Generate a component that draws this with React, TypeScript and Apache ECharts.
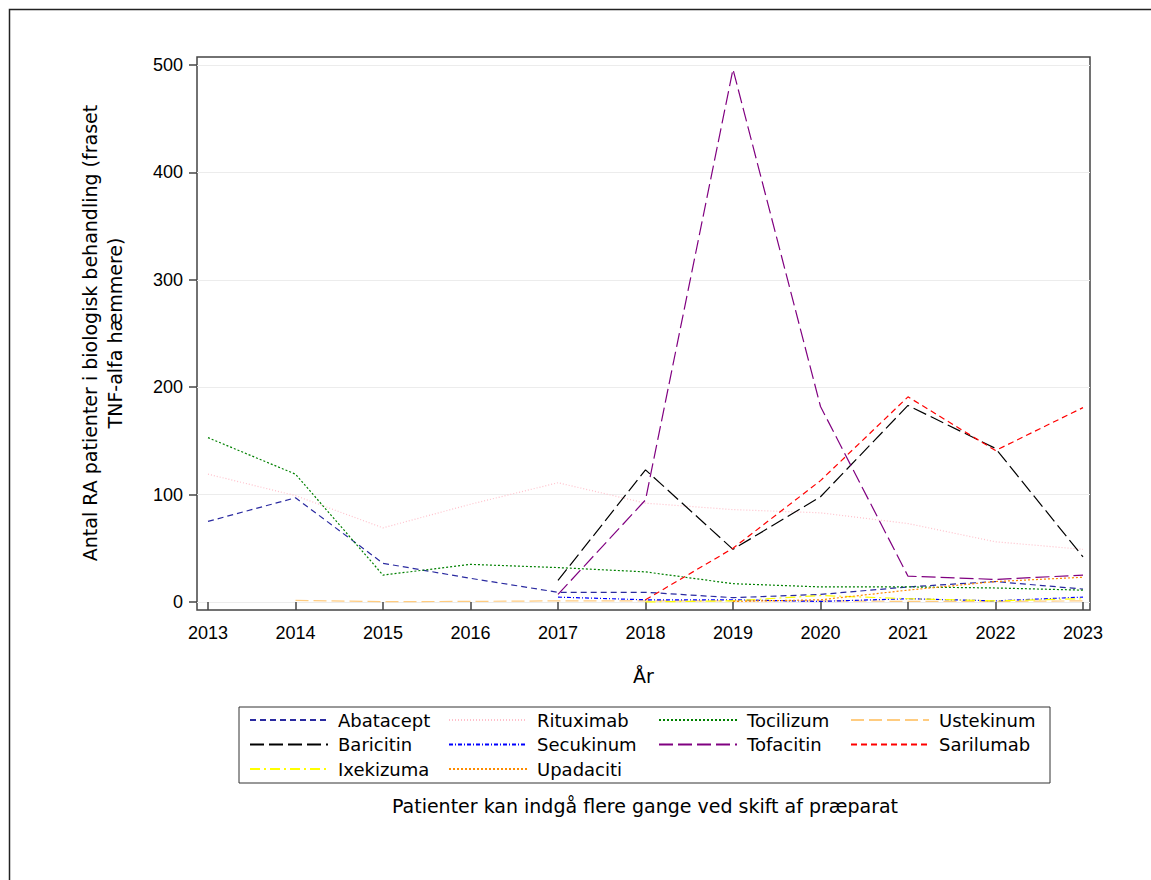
import React, { useEffect, useRef } from "react";
import * as echarts from "echarts";

const years = [2013, 2014, 2015, 2016, 2017, 2018, 2019, 2020, 2021, 2022, 2023];
const yTicks = [0, 100, 200, 300, 400, 500];

const abatacept = [75, 97, 36, 22, 9, 9, 4, 7, 14, 19, 12];
const rituximab = [119, 99, 69, 91, 111, 92, 86, 83, 73, 56, 49];
const tocilizumab = [153, 119, 25, 35, 32, 28, 17, 14, 14, 13, 11];
const ustekinumab = [null, 1.5, 0.3, 0.5, 1, 1, 1, 1, 0.5, 0.5, 1];
const baricitinib = [null, null, null, null, 20, 123, 49, 98, 183, 143, 42];
const secukinumab = [null, null, null, null, 4.5, 2, 2, 0.5, 3, 1, 4.5];
const tofacitinib = [null, null, null, null, 7, 95, 496, 182, 24, 21, 25];
const sarilumab = [null, null, null, null, null, 2, 50, 113, 191, 141, 181];
const ixekizumab = [null, null, null, null, null, 0, 1, 6, 3, 1, 3];
const upadacitinib = [null, null, null, null, null, null, 0.5, 2, 11, 19, 23];

const seriesDefs = [
  { name: "Abatacept", data: abatacept, color: "#2a2aa0", dash: [6, 4] },
  { name: "Rituximab", data: rituximab, color: "#ffc0cb", dash: [1, 2] },
  { name: "Tocilizum", data: tocilizumab, color: "#008000", dash: [2, 2] },
  { name: "Ustekinum", data: ustekinumab, color: "#ffcc80", dash: [13, 5] },
  { name: "Baricitin", data: baricitinib, color: "#000000", dash: [14, 5] },
  { name: "Secukinum", data: secukinumab, color: "#0000ff", dash: [4, 2, 1, 2] },
  { name: "Tofacitin", data: tofacitinib, color: "#800080", dash: [14, 5] },
  { name: "Sarilumab", data: sarilumab, color: "#ff0000", dash: [6, 4] },
  { name: "Ixekizuma", data: ixekizumab, color: "#ffff00", dash: [10, 4, 2, 4] },
  { name: "Upadaciti", data: upadacitinib, color: "#ff8c00", dash: [2, 2] },
];

const legendColumns = [
  ["Abatacept", "Baricitin", "Ixekizuma"],
  ["Rituximab", "Secukinum", "Upadaciti"],
  ["Tocilizum", "Tofacitin"],
  ["Ustekinum", "Sarilumab"],
];
const legendLefts = [249, 448, 658, 850];

const FONT = "'Liberation Sans', Arial, sans-serif";
const WFONT = "'DejaVu Sans', 'Liberation Sans', sans-serif";

export default function App() {
  const ref = useRef<HTMLDivElement>(null);
  useEffect(() => {
    if (!ref.current) return;
    const chart = echarts.init(ref.current, undefined, { renderer: "svg" });
    chart.setOption({
      animation: false,
      backgroundColor: "#ffffff",
      textStyle: { fontFamily: FONT },
      grid: {
        left: 197,
        right: 1151 - 1090,
        top: 57,
        bottom: 880 - 610,
        show: true,
        borderColor: "#444",
        borderWidth: 1.5,
        backgroundColor: "transparent",
      },
      xAxis: {
        type: "value",
        min: 2013 - 11 / 87.5,
        max: 2023 + 7 / 87.5,
        name: "År",
        nameLocation: "middle",
        nameGap: 56,
        nameTextStyle: { fontSize: 19, color: "#000", fontFamily: WFONT },
        axisLine: { show: false },
        axisTick: { show: true, inside: false, length: 8, customValues: years, lineStyle: { color: "#444", width: 1.5 } },
        axisLabel: {
          customValues: years,
          margin: 14,
          fontSize: 18,
          color: "#000",
          fontFamily: FONT,
          formatter: (v: number) => String(Math.round(v)),
        },
        splitLine: { show: false },
      },
      yAxis: {
        type: "value",
        min: -7.5,
        max: 507.5,
        axisLine: { show: false },
        axisTick: { show: true, inside: false, length: 8, customValues: yTicks, lineStyle: { color: "#444", width: 1.5 } },
        axisLabel: {
          customValues: yTicks,
          margin: 14,
          fontSize: 18,
          color: "#000",
          fontFamily: FONT,
        },
        splitLine: { show: true, lineStyle: { color: "#ececec", width: 1 } },
      },
      legend: legendColumns.map((col, i) => ({
        data: col,
        orient: "vertical",
        left: legendLefts[i],
        top: 711,
        itemWidth: 78,
        itemHeight: 14,
        itemGap: 6.5,
        padding: 0,
        selectedMode: false,
        itemStyle: { opacity: 0 },
        textStyle: { fontSize: 18, color: "#000", fontFamily: WFONT, padding: [0, 0, 0, 5] },
      })),
      series: seriesDefs.map((s) => ({
        name: s.name,
        type: "line",
        data: years.map((y, i) => [y, s.data[i]]),
        connectNulls: false,
        symbol: "none",
        color: s.color,
        lineStyle: { color: s.color, width: 1.2, type: s.dash },
        emphasis: { disabled: true },
      })),
      graphic: [
        {
          type: "rect",
          shape: { x: 9.5, y: 9.5, width: 1300, height: 1000 },
          style: { fill: "none", stroke: "#222", lineWidth: 1.5 },
          silent: true,
        },
        {
          type: "rect",
          shape: { x: 239, y: 707, width: 811, height: 76 },
          style: { fill: "none", stroke: "#333", lineWidth: 1 },
          silent: true,
        },
        {
          type: "text",
          x: 102,
          y: 333,
          rotation: Math.PI / 2,
          style: {
            text: "Antal RA patienter i biologisk behandling (fraset\nTNF-alfa hæmmere)",
            fontSize: 19,
            lineHeight: 25,
            fontFamily: WFONT,
            fill: "#000",
            align: "center",
            verticalAlign: "middle",
          },
        },
        {
          type: "text",
          x: 645,
          y: 806,
          style: {
            text: "Patienter kan indgå flere gange ved skift af præparat",
            fontSize: 19,
            fontFamily: WFONT,
            fill: "#000",
            align: "center",
            verticalAlign: "middle",
          },
        },
      ],
    });
    return () => chart.dispose();
  }, []);
  return (
    <div
      ref={ref}
      style={{ position: "fixed", left: 0, top: 0, width: 1151, height: 880 }}
    />
  );
}
